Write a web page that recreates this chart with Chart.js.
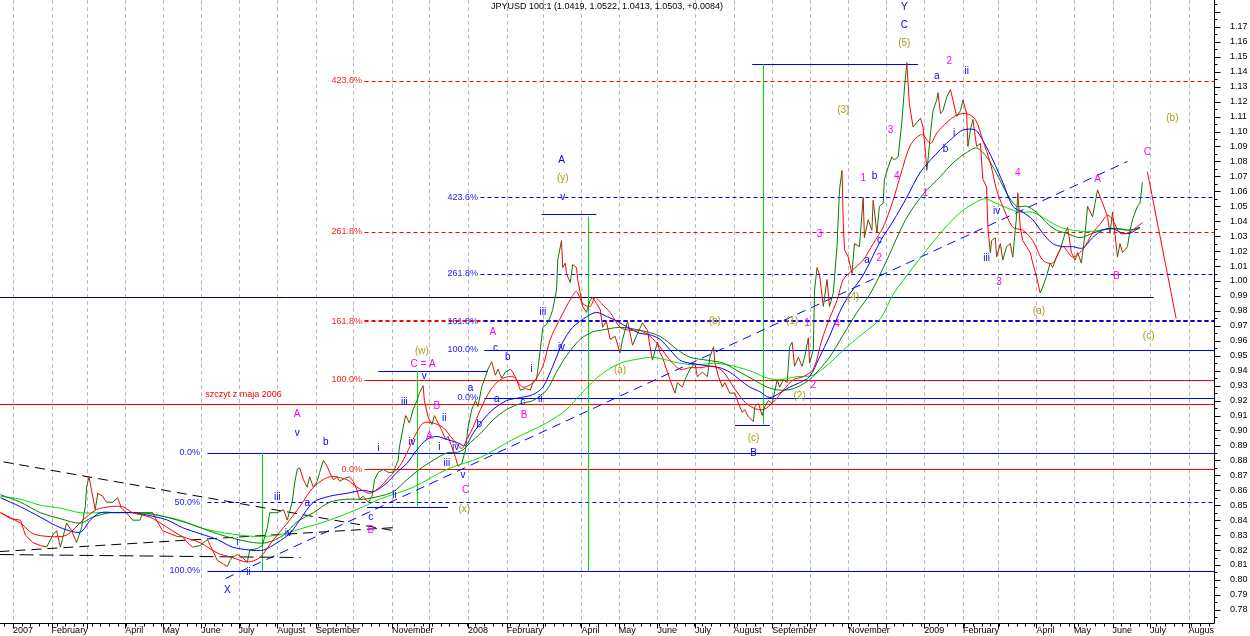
<!DOCTYPE html>
<html>
<head>
<meta charset="utf-8">
<script src="https://cdn.jsdelivr.net/npm/chart.js@4.4.1/dist/chart.umd.min.js"></script>
<style>
  body { margin: 0; background: #fff; }
  canvas { display: block; }
</style>
</head>
<body>
<canvas id="chart" width="1250" height="636"></canvas>
<script>
// x values are days since 1 Jan 2007
const monthStarts = [0, 31, 59, 90, 120, 151, 181, 212, 243, 273, 304, 334,
  365, 396, 425, 456, 486, 517, 547, 578, 609, 639, 670, 700,
  731, 762, 790, 821, 851, 882, 912, 943];
const monthLabels = ['2007', 'February', '', 'April', 'May', 'June', 'July', 'August', 'September', '', 'November', '',
  '2008', 'February', '', 'April', 'May', 'June', 'July', 'August', 'September', '', 'November', '',
  '2009', 'February', '', 'April', 'May', 'June', 'July', 'Augus'];
const priceTicks = [0.78, 0.79, 0.80, 0.81, 0.82, 0.83, 0.84, 0.85, 0.86, 0.87, 0.88, 0.89, 0.90,
  0.91, 0.92, 0.93, 0.94, 0.95, 0.96, 0.97, 0.98, 0.99, 1.00, 1.01, 1.02, 1.03, 1.04, 1.05,
  1.06, 1.07, 1.08, 1.09, 1.10, 1.11, 1.12, 1.13, 1.14, 1.15, 1.16, 1.17];

const priceDays = [
  -10, -2, 6, 10, 16, 22, 27, 32, 35, 38,
  43, 47, 51, 55, 58, 59, 61, 63, 66, 68,
  72, 75, 80, 84, 87, 91, 96, 102, 104, 107,
  112, 115, 120, 126, 132, 136, 140, 144, 150, 156,
  160, 164, 168, 172, 174, 176, 180, 184, 188, 190,
  196, 200, 204, 206, 212, 217, 220, 224, 226, 228,
  230,
  233, 236, 238, 241, 244, 246, 249, 252, 254, 257,
  260, 262, 266, 270, 273, 276, 278, 281, 285, 288,
  290, 293, 297, 301, 305, 309, 310, 313, 315, 318,
  321, 324, 326, 329, 330, 333, 336, 338, 341, 344,
  347, 349, 352, 355, 357, 360, 363, 365, 368, 371,
  373, 376, 379, 381, 384, 387, 389, 392, 395, 399,
  401, 404, 407, 411, 415, 417, 420, 423, 425, 428,
  431, 433, 436, 437, 440,
  441, 443, 444, 447, 449, 452, 453, 455, 457, 460,
  463, 465, 468, 471, 473, 476, 479, 483, 487, 489,
  493, 497, 501, 505, 509, 511, 513, 517, 519, 521,
  525, 527, 531, 533, 537, 539, 543, 547, 549, 553,
  557, 559, 562, 563, 566, 569, 571, 575, 579, 582,
  585, 587, 590, 594, 595, 598, 601, 603, 606, 609,
  613, 615, 618, 621, 623, 625, 627, 630, 633, 635,
  638, 639, 642, 643, 645, 647, 650, 653, 655, 658,
  661, 663, 665, 666, 667, 670, 673, 675, 679, 682,
  683, 686, 689, 690, 693, 695, 698, 699, 702, 705,
  707, 710, 713, 715, 717, 719, 722, 725, 728, 730,
  732, 733, 734, 736, 738, 741, 742, 744, 746, 749,
  752, 754, 757, 760, 762, 765, 766, 768, 770, 773,
  776, 778, 781, 782, 784, 785, 788, 789, 792, 794,
  797, 800, 802, 805, 806, 808, 810, 813, 816, 818,
  821, 824, 826, 829, 832, 834, 837, 840, 844, 846,
  849, 852, 854, 857, 860, 862, 866, 868, 870, 873,
  875, 878, 880, 882, 886, 888, 890, 894, 896, 898,
  902, 904, 906
];
const priceValues = [
  0.845, 0.841, 0.840, 0.830, 0.825, 0.823, 0.822, 0.830, 0.833, 0.822,
  0.838, 0.833, 0.825, 0.835, 0.849, 0.862, 0.869, 0.860, 0.847, 0.858,
  0.856, 0.852, 0.852, 0.855, 0.848, 0.845, 0.840, 0.840, 0.845, 0.845,
  0.845, 0.840, 0.833, 0.831, 0.829, 0.829, 0.825, 0.822, 0.823, 0.827,
  0.820, 0.813, 0.811, 0.809, 0.813, 0.815, 0.817, 0.815, 0.812, 0.820,
  0.821, 0.823, 0.835, 0.845, 0.845, 0.847, 0.840, 0.852, 0.865, 0.874,
  0.875,
  0.867, 0.862, 0.869, 0.862, 0.866, 0.872, 0.880, 0.876, 0.872, 0.867,
  0.869, 0.866, 0.868, 0.869, 0.866, 0.860, 0.854, 0.856, 0.852, 0.856,
  0.867, 0.872, 0.874, 0.872, 0.872, 0.880, 0.889, 0.902, 0.910, 0.905,
  0.914, 0.920, 0.925, 0.930, 0.920, 0.909, 0.904, 0.910, 0.905, 0.900,
  0.894, 0.896, 0.889, 0.882, 0.876, 0.878, 0.887, 0.902, 0.914, 0.920,
  0.916, 0.929, 0.936, 0.941, 0.946, 0.937, 0.941, 0.935, 0.939, 0.941,
  0.939, 0.934, 0.927, 0.928, 0.927, 0.932, 0.934, 0.954, 0.969, 0.971,
  0.976, 0.981, 0.994, 1.014, 1.027,
  1.009, 1.012, 1.005, 0.999, 1.011, 1.009, 1.001, 0.992, 0.983, 0.979,
  0.987, 0.989, 0.985, 0.981, 0.969, 0.973, 0.961, 0.963, 0.952, 0.961,
  0.973, 0.957, 0.965, 0.972, 0.967, 0.956, 0.947, 0.959, 0.952, 0.949,
  0.939, 0.934, 0.925, 0.932, 0.929, 0.934, 0.941, 0.945, 0.936, 0.939,
  0.936, 0.949, 0.956, 0.945, 0.936, 0.929, 0.932, 0.925, 0.925, 0.918,
  0.912, 0.914, 0.909, 0.906, 0.916, 0.918, 0.910, 0.916, 0.920, 0.918,
  0.934, 0.929, 0.934, 0.932, 0.956, 0.959, 0.943, 0.949, 0.943, 0.949,
  0.962, 0.945, 0.954, 0.994, 1.009, 1.004, 0.983, 1.001, 0.983, 0.992,
  1.023, 1.061, 1.074, 1.039, 1.021, 1.016, 1.005, 1.025, 1.023, 1.056,
  1.029, 1.041, 1.034, 1.054, 1.032, 1.050, 1.052, 1.068, 1.076, 1.083,
  1.081, 1.083, 1.106, 1.128, 1.146, 1.119, 1.103, 1.106, 1.109, 1.103,
  1.086, 1.074, 1.081, 1.099, 1.114, 1.121, 1.126, 1.112, 1.114, 1.123,
  1.128, 1.121, 1.110, 1.114, 1.121, 1.112, 1.090, 1.101, 1.108, 1.090,
  1.092, 1.068, 1.063, 1.036, 1.019, 1.027, 1.029, 1.016, 1.025, 1.014,
  1.023, 1.025, 1.016, 1.043, 1.059, 1.036, 1.027, 1.023, 1.019, 1.012,
  1.003, 0.992, 0.996, 1.003, 1.012, 1.009, 1.016, 1.021, 1.032, 1.036,
  1.019, 1.014, 1.019, 1.012, 1.032, 1.050, 1.043, 1.052, 1.061, 1.054,
  1.050, 1.043, 1.032, 1.046, 1.016, 1.025, 1.019, 1.023, 1.034, 1.041,
  1.050, 1.052, 1.066
];

// moving averages as drawn on the chart
const redMaDays = [-10, 6, 16, 30, 43, 56, 67, 78, 88, 96, 110, 124, 136, 150, 164, 176, 188, 198, 209, 220,
  230, 241, 254, 268, 276, 286, 294, 302, 310, 316, 321, 329, 337, 345, 353, 360, 364, 369, 375, 383,
  391, 401, 409, 417, 425, 431, 439, 448, 452, 457, 463, 467, 472, 479, 487, 495, 503, 511, 519, 527,
  535, 543, 551, 562, 570, 578, 586, 594, 602, 610, 618, 626, 634, 642, 649, 655, 661, 666, 673, 682,
  690, 698, 706, 712, 720, 729, 736, 741, 749, 757, 765, 772, 778, 784, 789, 794, 802, 810, 818, 826,
  834, 842, 850, 858, 866, 872, 878, 882, 888, 894, 898, 906];
const redMa = [0.845, 0.838, 0.831, 0.829, 0.830, 0.840, 0.847, 0.849, 0.849, 0.845, 0.842, 0.835, 0.829, 0.825, 0.818, 0.815, 0.812, 0.815, 0.827, 0.838,
  0.849, 0.862, 0.869, 0.867, 0.862, 0.858, 0.862, 0.869, 0.876, 0.885, 0.894, 0.905, 0.905, 0.902, 0.894, 0.888, 0.894, 0.902, 0.914, 0.927,
  0.934, 0.936, 0.929, 0.932, 0.943, 0.961, 0.975, 0.989, 0.993, 0.985, 0.983, 0.989, 0.985, 0.979, 0.969, 0.967, 0.967, 0.963, 0.956, 0.947,
  0.941, 0.942, 0.942, 0.943, 0.939, 0.929, 0.920, 0.915, 0.914, 0.919, 0.927, 0.934, 0.936, 0.941, 0.961, 0.975, 0.987, 1.001, 1.007, 1.014,
  1.025, 1.036, 1.054, 1.071, 1.091, 1.098, 1.092, 1.099, 1.106, 1.111, 1.112, 1.108, 1.094, 1.079, 1.061, 1.050, 1.036, 1.034, 1.027, 1.014,
  1.012, 1.023, 1.016, 1.021, 1.032, 1.038, 1.044, 1.041, 1.032, 1.032, 1.034, 1.039];

const blueMaDays = [-10, 6, 22, 38, 54, 62, 70, 83, 96, 110, 124, 136, 150, 164, 176, 190, 201, 212, 222, 230,
  241, 254, 268, 281, 289, 300, 308, 316, 324, 332, 340, 348, 356, 363, 369, 377, 385, 396, 407, 417,
  425, 433, 441, 449, 460, 468, 477, 485, 493, 503, 511, 519, 527, 535, 543, 551, 559, 567, 575, 583,
  591, 599, 607, 615, 623, 631, 639, 647, 655, 663, 671, 682, 696, 706, 717, 728, 744, 754, 762, 772,
  778, 786, 794, 802, 810, 818, 826, 834, 842, 850, 858, 866, 874, 882, 890, 896, 904];
const blueMa = [0.855, 0.849, 0.842, 0.835, 0.832, 0.840, 0.845, 0.845, 0.845, 0.843, 0.840, 0.835, 0.831, 0.827, 0.822, 0.820, 0.820, 0.825, 0.831, 0.840,
  0.852, 0.856, 0.858, 0.860, 0.859, 0.865, 0.872, 0.878, 0.887, 0.894, 0.896, 0.894, 0.892, 0.890, 0.898, 0.907, 0.914, 0.920, 0.922, 0.924,
  0.929, 0.943, 0.959, 0.969, 0.976, 0.979, 0.976, 0.973, 0.969, 0.965, 0.964, 0.961, 0.954, 0.947, 0.945, 0.944, 0.943, 0.942, 0.939, 0.934,
  0.929, 0.926, 0.922, 0.925, 0.929, 0.932, 0.936, 0.949, 0.963, 0.979, 0.991, 1.004, 1.027, 1.040, 1.056, 1.073, 1.088, 1.096, 1.101, 1.101,
  1.094, 1.081, 1.066, 1.050, 1.046, 1.041, 1.032, 1.025, 1.023, 1.023, 1.022, 1.029, 1.034, 1.035, 1.032, 1.032, 1.036];

const darkMaDays = [-10, 6, 22, 38, 54, 64, 78, 91, 104, 118, 132, 144, 160, 176, 193, 204, 217, 228, 241, 254,
  268, 281, 294, 305, 316, 326, 337, 348, 359, 367, 375, 385, 396, 407, 417, 428, 436, 444, 455, 465,
  471, 487, 503, 519, 533, 543, 557, 570, 583, 594, 605, 615, 626, 639, 647, 655, 666, 677, 688, 701,
  716, 730, 744, 754, 765, 773, 781, 789, 797, 805, 813, 821, 829, 837, 845, 856, 866, 878, 888, 896, 904];
const darkMa = [0.857, 0.852, 0.845, 0.841, 0.838, 0.842, 0.845, 0.845, 0.845, 0.843, 0.840, 0.837, 0.832, 0.828, 0.825, 0.825, 0.830, 0.839, 0.845, 0.852,
  0.854, 0.854, 0.856, 0.859, 0.867, 0.874, 0.880, 0.885, 0.886, 0.892, 0.898, 0.907, 0.914, 0.918, 0.920, 0.927, 0.939, 0.950, 0.961, 0.966,
  0.967, 0.969, 0.967, 0.963, 0.954, 0.949, 0.947, 0.945, 0.939, 0.934, 0.929, 0.927, 0.928, 0.934, 0.941, 0.949, 0.964, 0.979, 0.992, 1.014,
  1.041, 1.058, 1.070, 1.079, 1.086, 1.089, 1.083, 1.072, 1.059, 1.050, 1.050, 1.046, 1.039, 1.034, 1.032, 1.029, 1.032, 1.035, 1.035, 1.034, 1.036];

const lightMaDays = [-10, 6, 22, 38, 54, 70, 86, 102, 118, 134, 150, 166, 182, 198, 212, 222, 230, 254, 281, 294,
  321, 348, 375, 401, 428, 444, 455, 471, 487, 503, 513, 525, 535, 549, 562, 573, 583, 594, 605, 615,
  629, 642, 655, 669, 682, 696, 706, 722, 736, 746, 760, 773, 780, 786, 797, 808, 818, 829, 840, 850,
  862, 872, 882, 894, 904];
const lightMa = [0.856, 0.854, 0.850, 0.848, 0.845, 0.845, 0.845, 0.845, 0.843, 0.840, 0.835, 0.832, 0.830, 0.829, 0.830, 0.832, 0.834, 0.840, 0.849, 0.854,
  0.862, 0.874, 0.882, 0.894, 0.905, 0.914, 0.924, 0.937, 0.945, 0.948, 0.949, 0.947, 0.945, 0.944, 0.945, 0.944, 0.942, 0.939, 0.935, 0.934,
  0.936, 0.937, 0.945, 0.956, 0.965, 0.975, 0.991, 1.009, 1.024, 1.034, 1.046, 1.053, 1.055, 1.053, 1.049, 1.046, 1.046, 1.041, 1.036, 1.034,
  1.033, 1.034, 1.035, 1.034, 1.035];

// drawn objects: [value, fromDay, toDay, colour, dashed, width]
const hLines = [
  [0.989, -11, 915, '#000060', false, 1],
  [1.134, 282, 964, '#ff0000', true, 1],
  [1.145, 593, 726, '#0000ff', false, 1],
  [1.056, 375, 964, '#0000ff', true, 1],
  [1.033, 282, 964, '#ff0000', true, 1],
  [1.005, 375, 964, '#0000ff', true, 1],
  [0.973, 282, 964, '#ff0000', true, 2],
  [0.954, 378, 964, '#0000ff', false, 1],
  [0.934, 282, 964, '#ff0000', false, 1],
  [0.940, 293, 381, '#0000ff', false, 1],
  [0.922, 378, 964, '#0000ff', false, 1],
  [0.918, -11, 964, '#ff0000', false, 1],
  [0.885, 156, 964, '#0000ff', false, 1],
  [0.874, 282, 964, '#ff0000', false, 1],
  [0.852, 156, 964, '#0000ff', true, 1],
  [0.806, 156, 964, '#0000ff', false, 1],
  [0.849, 284, 349, '#0000ff', false, 1],
  [0.904, 579, 607, '#0000ff', false, 1],
  [1.045, 424, 468, '#0000ff', false, 1]
];
// [day0, value0, day1, value1, colour, dash]
const segLines = [
  [200, 0.885, 200, 0.806, '#00dd00', null],
  [324, 0.940, 324, 0.849, '#00dd00', null],
  [461, 1.043, 461, 0.806, '#00dd00', null],
  [602, 1.145, 602, 0.904, '#00dd00', null],
  [170, 0.801, 894, 1.080, '#0000ff', [9, 6]],
  [-8, 0.879, 305, 0.833, '#000000', [10, 6]],
  [-11, 0.819, 305, 0.835, '#000000', [10, 6]],
  [-11, 0.817, 230, 0.815, '#000000', [14, 6]]
];
const projection = [910, 1.073, 933, 0.975];

const fibLabels = [
  [280, 1.134, '423.6%', '#ff2020'], [280, 1.033, '261.8%', '#ff2020'], [280, 0.973, '161.8%', '#ff2020'],
  [280, 0.934, '100.0%', '#ff2020'], [280, 0.874, '0.0%', '#ff2020'],
  [373, 1.056, '423.6%', '#2020ff'], [373, 1.005, '261.8%', '#2020ff'], [373, 0.973, '161.8%', '#2020ff'],
  [373, 0.954, '100.0%', '#2020ff'], [373, 0.922, '0.0%', '#2020ff'],
  [150, 0.885, '0.0%', '#2020ff'], [150, 0.852, '50.0%', '#2020ff'], [150, 0.806, '100.0%', '#2020ff']
];

const B = '#0000ff', M = '#ff00ff', O = '#a89c10';
const waveLabels = [
  [172, 0.793, 'X', B], [189, 0.805, 'ii', B], [180, 0.825, 'i', B], [212, 0.855, 'iii', B], [221, 0.831, 'iv', B],
  [228, 0.911, 'A', M], [228, 0.898, 'v', B], [251, 0.892, 'b', B], [236, 0.851, 'a', B],
  [293, 0.888, 'i', B], [306, 0.857, 'ii', B], [287, 0.842, 'c', B], [287, 0.833, 'B', M],
  [314, 0.919, 'iii', B], [320, 0.892, 'iv', B], [330, 0.936, 'v', B], [329, 0.944, 'C = A', M], [328, 0.953, '(w)', O],
  [340, 0.916, 'B', M], [346, 0.908, 'ii', B], [334, 0.896, 'A', M], [342, 0.889, 'i', B], [348, 0.878, 'iii', B],
  [355, 0.889, 'iv', B], [361, 0.870, 'v', B], [363, 0.860, 'C', M], [362, 0.847, '(x)', O],
  [367, 0.928, 'a', B], [374, 0.904, 'b', B], [388, 0.921, 'a', B], [387, 0.955, 'c', B], [385, 0.966, 'A', M],
  [397, 0.949, 'b', B], [409, 0.919, 'c', B], [410, 0.910, 'B', M], [416, 0.941, 'i', B], [423, 0.921, 'ii', B],
  [425, 0.979, 'iii', B], [440, 0.956, 'iv', B], [440, 1.081, 'A', B], [441, 1.069, '(y)', O], [441, 1.056, 'v', B],
  [487, 0.940, '(a)', O], [563, 0.973, '(b)', O], [594, 0.895, '(c)', O], [594, 0.885, 'B', B],
  [625, 0.973, '(1)', O], [637, 0.972, '1', M], [631, 0.923, '(2)', O], [642, 0.930, '2', M], [661, 0.971, '4', M],
  [674, 0.989, '(4)', O], [647, 1.031, '3', M], [666, 1.114, '(3)', O], [682, 1.069, '1', M], [691, 1.070, 'b', B],
  [685, 1.014, 'a', B], [695, 1.027, 'c', B], [695, 1.015, '2', M], [709, 1.070, '4', M], [704, 1.101, '3', M],
  [715, 1.159, '(5)', O], [715, 1.171, 'C', B], [715, 1.183, 'Y', B],
  [741, 1.137, 'a', B], [751, 1.147, '2', M], [765, 1.140, 'ii', B], [755, 1.099, 'i', B], [748, 1.088, 'b', B],
  [732, 1.059, '1', M], [789, 1.047, 'iv', B], [781, 1.015, 'iii', B], [791, 0.999, '3', M], [806, 1.072, '4', M],
  [823, 0.980, '(a)', O], [870, 1.068, 'A', M], [885, 1.003, 'B', M], [910, 1.086, 'C', M],
  [930, 1.109, '(b)', O], [911, 0.963, '(c)', O]
];

const pts = (days, vals) => days.map((d, i) => ({ x: d, y: vals[i] }));

const drawings = {
  id: 'drawings',
  beforeDatasetsDraw(chart) {
    const { ctx, chartArea: a, scales: { x, y } } = chart;
    ctx.save();
    ctx.beginPath();
    ctx.rect(a.left, a.top, a.right - a.left, a.bottom - a.top);
    ctx.clip();
    // month grid
    ctx.strokeStyle = '#bcbcbc';
    ctx.lineWidth = 1;
    ctx.setLineDash([4, 3]);
    monthStarts.forEach(d => {
      const px = Math.round(x.getPixelForValue(d)) + 0.5;
      ctx.beginPath(); ctx.moveTo(px, a.top); ctx.lineTo(px, a.bottom); ctx.stroke();
    });
    hLines.forEach(([v, d0, d1, col, dashed, w]) => {
      const py = Math.round(y.getPixelForValue(v)) + (w === 1 ? 0.5 : 0);
      ctx.strokeStyle = col;
      ctx.lineWidth = w;
      ctx.setLineDash(dashed ? [4, 3] : []);
      ctx.beginPath(); ctx.moveTo(x.getPixelForValue(d0), py); ctx.lineTo(x.getPixelForValue(d1), py); ctx.stroke();
      if (w === 2 && dashed) {
        ctx.strokeStyle = '#0000ff';
        ctx.lineDashOffset = 4;
        ctx.beginPath(); ctx.moveTo(x.getPixelForValue(375), py); ctx.lineTo(x.getPixelForValue(d1), py); ctx.stroke();
        ctx.lineDashOffset = 0;
      }
    });
    segLines.forEach(([d0, v0, d1, v1, col, dash]) => {
      ctx.strokeStyle = col;
      ctx.lineWidth = 1;
      ctx.setLineDash(dash || []);
      ctx.beginPath();
      ctx.moveTo(Math.round(x.getPixelForValue(d0)) + 0.5, y.getPixelForValue(v0));
      ctx.lineTo(Math.round(x.getPixelForValue(d1)) + 0.5, y.getPixelForValue(v1));
      ctx.stroke();
    });
    ctx.restore();
  },
  afterDatasetsDraw(chart) {
    const { ctx, chartArea: a, scales: { x, y } } = chart;
    ctx.save();
    ctx.strokeStyle = '#ff0000';
    ctx.lineWidth = 1;
    ctx.beginPath();
    ctx.moveTo(x.getPixelForValue(projection[0]), y.getPixelForValue(projection[1]));
    ctx.lineTo(x.getPixelForValue(projection[2]), y.getPixelForValue(projection[3]));
    ctx.stroke();

    ctx.textBaseline = 'middle';
    ctx.font = '9px "Liberation Sans", Arial, sans-serif';
    ctx.textAlign = 'right';
    fibLabels.forEach(([d, v, t, col]) => {
      ctx.fillStyle = col;
      ctx.fillText(t, x.getPixelForValue(d), y.getPixelForValue(v));
    });
    ctx.textAlign = 'center';
    ctx.fillStyle = '#ff0000';
    ctx.fillText('szczyt z maja 2006', x.getPixelForValue(185), y.getPixelForValue(0.924));
    ctx.font = '10px "Liberation Sans", Arial, sans-serif';
    waveLabels.forEach(([d, v, t, col]) => {
      ctx.fillStyle = col;
      ctx.fillText(t, x.getPixelForValue(d), y.getPixelForValue(v));
    });

    // axes
    ctx.strokeStyle = '#000';
    ctx.fillStyle = '#000';
    const r = Math.round(a.right) + 0.5, b = Math.round(a.bottom) + 0.5;
    ctx.beginPath();
    ctx.moveTo(r, 0); ctx.lineTo(r, b);
    ctx.moveTo(0, b); ctx.lineTo(r, b);
    for (let k = 155; k <= 237; k++) {
      const py = Math.round(y.getPixelForValue(k * 0.005)) + 0.5;
      ctx.moveTo(r, py); ctx.lineTo(r + (k % 2 === 0 ? 6 : 3), py);
    }
    monthStarts.forEach(d => {
      const px = Math.round(x.getPixelForValue(d)) + 0.5;
      ctx.moveTo(px, b); ctx.lineTo(px, b + 5);
    });
    for (let d = -7; d < 963; d += 7) {
      const px = Math.round(x.getPixelForValue(d)) + 0.5;
      ctx.moveTo(px, b); ctx.lineTo(px, b + 3);
    }
    ctx.stroke();

    ctx.font = '9px "Liberation Sans", Arial, sans-serif';
    ctx.textAlign = 'center';
    ctx.fillText('JPYUSD 100:1 (1.0419, 1.0522, 1.0413, 1.0503, +0.0084)', 607, 7);
    ctx.restore();
  }
};

const upDown = c => (c.p1.parsed.y >= c.p0.parsed.y ? '#008000' : '#ff0000');

new Chart(document.getElementById('chart'), {
  type: 'line',
  data: {
    datasets: [
      { label: 'MA red', data: pts(redMaDays, redMa), borderColor: '#ff0000', order: 1 },
      { label: 'MA blue', data: pts(blueMaDays, blueMa), borderColor: '#0000ff', order: 2 },
      { label: 'MA green', data: pts(darkMaDays, darkMa), borderColor: '#008000', order: 3 },
      { label: 'MA light', data: pts(lightMaDays, lightMa), borderColor: '#00e000', order: 4 },
      { label: 'JPYUSD', data: pts(priceDays, priceValues), borderColor: '#008000', tension: 0, segment: { borderColor: upDown }, order: 5 }
    ]
  },
  options: {
    responsive: false,
    animation: false,
    devicePixelRatio: 1,
    layout: { padding: 0 },
    plugins: { legend: { display: false }, tooltip: { enabled: false } },
    elements: {
      point: { radius: 0 },
      line: { borderWidth: 1, tension: 0.3 }
    },
    datasets: { line: { clip: 0 } },
    scales: {
      x: {
        type: 'linear',
        min: -10.4,
        max: 963.4,
        afterBuildTicks: s => { s.ticks = monthStarts.map(v => ({ value: v })); },
        afterFit: s => { s.height = 13; s.paddingLeft = 0; s.paddingRight = 0; },
        grid: { display: false, drawTicks: true, tickLength: 2 },
        border: { display: false },
        ticks: {
          autoSkip: false, maxRotation: 0, align: 'start', padding: 0, color: '#000',
          font: { family: '"Liberation Sans", Arial, sans-serif', size: 9 },
          callback: (v, i) => monthLabels[i]
        }
      },
      y: {
        position: 'right',
        min: 0.7712,
        max: 1.188,
        afterBuildTicks: s => { s.ticks = priceTicks.map(v => ({ value: v })); },
        afterFit: s => { s.width = 36; s.paddingTop = 0; s.paddingBottom = 0; },
        grid: { display: false, drawTicks: true, tickLength: 16 },
        border: { display: false },
        ticks: {
          autoSkip: false, padding: 0, color: '#000',
          font: { family: '"Liberation Sans", Arial, sans-serif', size: 9 },
          callback: v => v.toFixed(2)
        }
      }
    }
  },
  plugins: [drawings]
});
</script>
</body>
</html>
